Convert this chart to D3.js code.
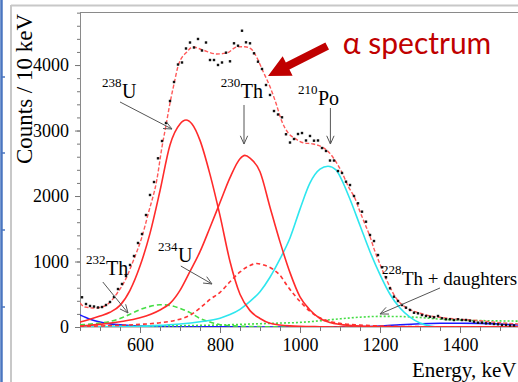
<!DOCTYPE html>
<html>
<head>
<meta charset="utf-8">
<script src="https://cdn.jsdelivr.net/npm/d3@7"></script>
<style>
body { margin: 0; background: #fff; }
svg { display: block; }
</style>
</head>
<body>
<svg width="518" height="382"></svg>
<script>
// measured counts per 10 keV bin, first bin centred at 455 keV
var binStart = 455, binWidth = 10;
var counts = [454,351,321,313,298,305,336,382,458,580,
  657,779,947,1084,1283,1420,1710,2016,2214,2576,
  2840,3115,3451,3741,4008,4039,4253,4344,4268,4398,
  4222,4344,4077,4077,4001,4039,4189,4057,4332,4295,
  4524,4347,4332,4179,4051,3940,3695,3543,3298,3245,
  3202,2943,2817,2871,2947,2962,2848,2917,2845,2848,
  2733,2688,2542,2542,2382,2352,2219,2168,2000,1889,
  1761,1608,1405,1313,1099,912,760,591,463,397,
  336,295,260,218,209,183,168,157,148,168,
  133,118,118,107,118,107,107,96,81,66,
  66,56,56,46,41,31,31,23,23];

// fit curves, [energy keV, counts]
var fitTotal = [[450,366],[462,305],[487,290],[512,321],[530,412],[545,535],[562,703],[582,992],
  [604,1359],[621,1741],[642,2245],[655,2750],[665,3080],[675,3420],[685,3710],[696,4000],
  [717,4199],[732,4276],[757,4230],[792,4169],[817,4184],[842,4276],[862,4280],[879,4240],
  [893,4103],[908,3898],[925,3669],[940,3416],[954,3150],[971,2958],[987,2881],[1008,2814],
  [1033,2794],[1054,2753],[1071,2677],[1087,2550],[1104,2371],[1121,2142],[1137,1970],
  [1150,1760],[1162,1580],[1175,1380],[1187,1160],[1200,960],[1212,780],[1225,610],[1237,470],
  [1250,370],[1267,290],[1285,240],[1300,210],[1325,170],[1350,148],[1400,118],[1450,96],
  [1500,66],[1545,46],[1600,30]];
var u238 = [[450,76],[475,120],[500,168],[525,225],[550,330],[575,560],[600,930],[625,1430],
  [650,2080],[675,2780],[700,3100],[715,3160],[730,3100],[750,2850],[775,2330],[800,1700],
  [825,1000],[850,500],[875,250],[900,130],[925,56],[950,30],[975,17],[1000,10],[1050,4],
  [1100,0],[1600,0]];
var th230 = [[450,15],[500,40],[550,80],[600,140],[650,260],[675,360],[700,560],[725,850],
  [750,1150],[775,1520],[800,1900],[825,2280],[850,2570],[862,2620],[875,2580],[900,2370],
  [925,1830],[950,1300],[975,830],[1000,460],[1025,260],[1050,130],[1075,70],[1100,40],
  [1150,15],[1200,5],[1300,0],[1600,0]];
var u234 = [[450,10],[550,25],[600,40],[650,65],[700,120],[725,180],[750,290],[775,420],
  [800,530],[825,690],[850,840],[875,940],[892,970],[910,945],[933,880],[950,790],[967,640],
  [1000,390],[1025,240],[1050,140],[1075,85],[1100,55],[1150,30],[1200,15],[1300,5],[1600,0]];
var po210 = [[450,0],[550,5],[600,10],[650,25],[700,45],[750,80],[800,135],[825,190],[850,270],
  [875,390],[900,540],[925,760],[950,1040],[975,1360],[1000,1800],[1025,2200],[1050,2410],
  [1070,2455],[1090,2400],[1100,2300],[1125,1950],[1150,1550],[1175,1150],[1200,800],
  [1225,500],[1250,290],[1275,150],[1300,60],[1325,15],[1350,0],[1600,0]];
var th232 = [[450,35],[500,60],[525,85],[550,130],[575,195],[600,265],[625,315],[650,340],
  [675,330],[700,285],[725,220],[750,130],[775,75],[800,35],[825,20],[850,12],[900,5],
  [1000,0],[1600,0]];
var th228 = [[450,8],[550,10],[650,15],[750,25],[800,30],[850,40],[900,50],[950,60],[1000,70],
  [1050,95],[1100,125],[1150,150],[1200,162],[1250,160],[1300,145],[1350,120],[1400,105],
  [1450,98],[1500,93],[1545,90],[1600,88]];
var bkg = [[450,185],[475,120],[500,75],[525,48],[550,32],[575,22],[600,15],[650,8],[700,4],
  [800,2],[900,1],[1000,1],[1100,2],[1150,5],[1200,15],[1250,35],[1300,50],[1350,57],
  [1400,58],[1450,55],[1500,45],[1545,30],[1600,20]];

var yTicks = [0, 1000, 2000, 3000, 4000];
var xTicks = [600, 800, 1000, 1200, 1400];

var svg = d3.select("svg");
var serif = "'Liberation Serif', 'Times New Roman', serif";

// slide decorations
svg.append("line").attr("x1", 1.5).attr("x2", 1.5).attr("y1", 0).attr("y2", 382)
  .attr("stroke", "#4a76c0").attr("stroke-width", 2.5);
[77, 153, 230, 307].forEach(function(v) {
  svg.append("line").attr("x1", 1).attr("x2", 5).attr("y1", v).attr("y2", v)
    .attr("stroke", "#4a76c0").attr("stroke-width", 1.5);
});
svg.append("line").attr("x1", 11).attr("x2", 518).attr("y1", 5.5).attr("y2", 5.5)
  .attr("stroke", "#c8c8c8").attr("stroke-width", 2);
svg.append("line").attr("x1", 11).attr("x2", 11).attr("y1", 5).attr("y2", 382)
  .attr("stroke", "#c8c8c8").attr("stroke-width", 2);

// scales
var x = d3.scaleLinear().domain([450, 1600]).range([80, 540]);
var y = d3.scaleLinear().domain([0, 4810]).range([327, 12]);

svg.append("clipPath").attr("id", "clip")
  .append("rect").attr("x", 80).attr("y", 12).attr("width", 460).attr("height", 315);

// axes
var fmt = d3.format("d");
var yAxis = svg.append("g").attr("transform", "translate(80,0)")
  .call(d3.axisLeft(y).tickValues(yTicks).tickSize(5).tickPadding(6).tickFormat(fmt));
var yMinor = svg.append("g").attr("transform", "translate(80,0)")
  .call(d3.axisLeft(y).tickValues(d3.range(200, 4801, 200)).tickSize(3).tickFormat(""));
var xAxis = svg.append("g").attr("transform", "translate(0,327)")
  .call(d3.axisBottom(x).tickValues(xTicks).tickSize(6).tickPadding(5).tickFormat(fmt));
var xMinor = svg.append("g").attr("transform", "translate(0,327)")
  .call(d3.axisBottom(x).tickValues(d3.range(450, 1601, 50)).tickSize(4).tickFormat(""));

[yAxis, yMinor, xAxis, xMinor].forEach(function(g) {
  g.select(".domain").remove();
  g.selectAll("line").attr("stroke", "#777");
  g.selectAll("text").attr("font-family", serif).attr("font-size", 18).attr("fill", "#000");
});

// frame
svg.append("rect").attr("x", 80.5).attr("y", 12.5).attr("width", 460).attr("height", 314.5)
  .attr("fill", "none").attr("stroke", "#8a8a8a").attr("stroke-width", 1);

// axis titles
svg.append("text").attr("transform", "translate(32,89) rotate(-90)")
  .attr("text-anchor", "middle").attr("font-family", serif).attr("font-size", 23)
  .text("Counts / 10 keV");
svg.append("text").attr("x", 412).attr("y", 377)
  .attr("font-family", serif).attr("font-size", 21).text("Energy, keV");

// curves
var plot = svg.append("g").attr("clip-path", "url(#clip)");
var line = d3.line()
  .x(function(d) { return x(d[0]); })
  .y(function(d) { return y(d[1]); })
  .curve(d3.curveMonotoneX);

function drawCurve(data, color, dash, w) {
  plot.append("path").datum(data)
    .attr("d", line)
    .attr("fill", "none")
    .attr("stroke", color)
    .attr("stroke-width", w || 1.6)
    .attr("stroke-dasharray", dash || null);
}

drawCurve(bkg, "#1a1aff");
drawCurve(th228, "#44dd44", "2,2");
drawCurve(th232, "#44dd44", "5,3");
drawCurve(po210, "#2ee6ee");
drawCurve(u234, "#ff3333", "4,3");
drawCurve(th230, "#ff2b2b");
drawCurve(u238, "#ff2b2b");
drawCurve(fitTotal, "#ff5a5a", "4,2", 1.4);

// data points
plot.selectAll("rect.pt").data(counts).enter().append("rect")
  .attr("class", "pt")
  .attr("x", function(d, i) { return x(binStart + i * binWidth) - 1.2; })
  .attr("y", function(d) { return y(d) - 1.2; })
  .attr("width", 2.4).attr("height", 2.4)
  .attr("fill", "#111");

// annotations: [main text, superscript, label energy, label counts, font size, arrow from, arrow to]
var notes = [
  ["U", "238", 555, 3497, 20, [550, 3436], [680, 3023]],
  ["Th", "230", 852, 3497, 20, [860, 3390], [860, 2794]],
  ["Po", "210", 1045, 3390, 20, [1076, 3344], [1076, 2794]],
  ["Th", "232", 515, 794, 20, [507, 687], [570, 214]],
  ["U", "234", 695, 993, 20, [702, 931], [780, 657]],
  ["Th + daughters", "228", 1255, 641, 19, [1350, 596], [1200, 199]]
];

notes.forEach(function(n) {
  var tx = x(n[2]), ty = y(n[3]);
  svg.append("text").attr("x", tx).attr("y", ty)
    .attr("font-family", serif).attr("font-size", n[4]).text(n[0]);
  svg.append("text").attr("x", tx - 0.5).attr("y", ty - 11).attr("text-anchor", "end")
    .attr("font-family", serif).attr("font-size", 13).text(n[1]);
  var x1 = x(n[5][0]), y1 = y(n[5][1]), x2 = x(n[6][0]), y2 = y(n[6][1]);
  var a = Math.atan2(y2 - y1, x2 - x1), L = 9, s = 0.42;
  svg.append("line").attr("x1", x1).attr("y1", y1).attr("x2", x2).attr("y2", y2)
    .attr("stroke", "#555").attr("stroke-width", 1);
  svg.append("path")
    .attr("d", "M" + (x2 - L * Math.cos(a - s)) + "," + (y2 - L * Math.sin(a - s)) +
      "L" + x2 + "," + y2 +
      "L" + (x2 - L * Math.cos(a + s)) + "," + (y2 - L * Math.sin(a + s)))
    .attr("fill", "none").attr("stroke", "#555").attr("stroke-width", 1);
});

// alpha spectrum callout
svg.append("text").attr("x", x(1107)).attr("y", y(4169))
  .attr("font-family", "Lato, 'Noto Sans', sans-serif").attr("font-size", 30)
  .attr("fill", "#c00000").text("\u03b1 spectrum");

var tail = [x(1068), y(4291)], tip = [x(920), y(3833)];
var dx = tip[0] - tail[0], dy = tip[1] - tail[1], len = Math.sqrt(dx * dx + dy * dy);
var ux = dx / len, uy = dy / len, nx = -uy, ny = ux;
var hw = 4, hh = 11, hl = 22;
var bx = tip[0] - ux * hl, by = tip[1] - uy * hl;
var pts = [
  [tail[0] + nx * hw, tail[1] + ny * hw],
  [bx + nx * hw, by + ny * hw],
  [bx + nx * hh, by + ny * hh],
  tip,
  [bx - nx * hh, by - ny * hh],
  [bx - nx * hw, by - ny * hw],
  [tail[0] - nx * hw, tail[1] - ny * hw]
];
svg.append("polygon").attr("points", pts.map(function(p) { return p.join(","); }).join(" "))
  .attr("fill", "#c00000");
</script>
</body>
</html>
